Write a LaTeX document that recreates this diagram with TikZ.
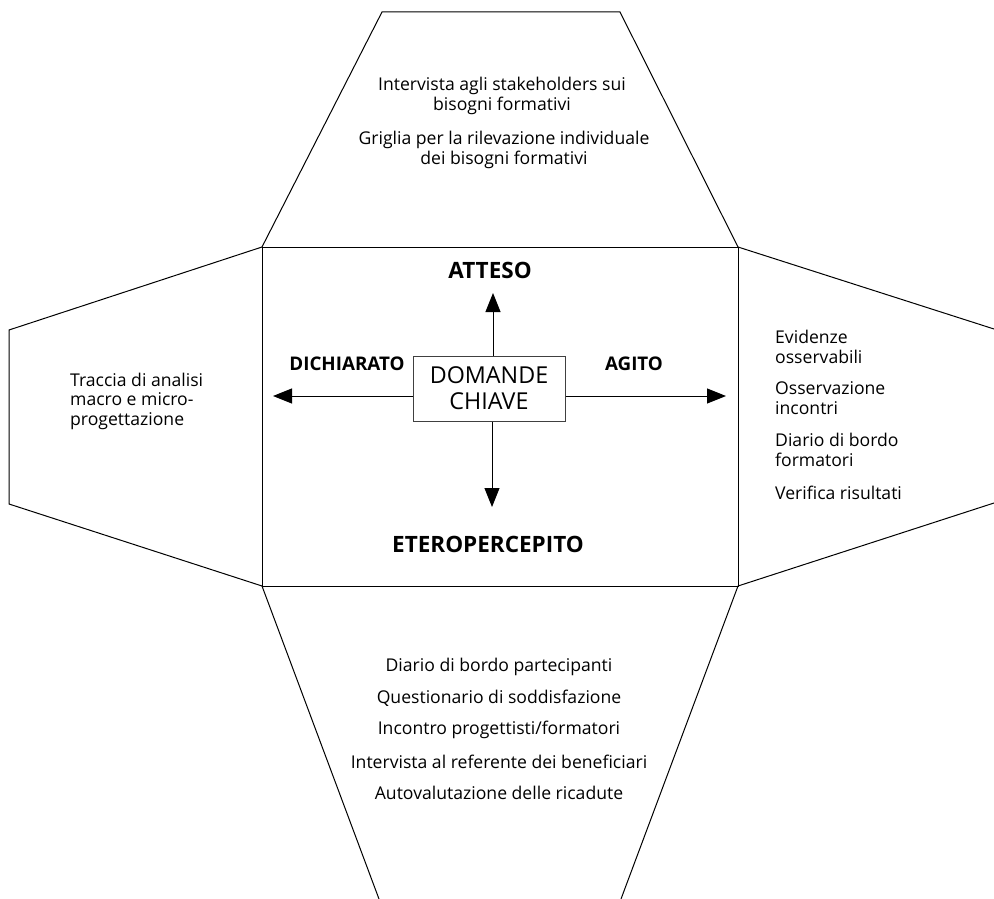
\documentclass[tikz,border=0pt]{standalone}
\usepackage{fontspec}
\setmainfont{Open Sans}
\usetikzlibrary{arrows.meta,calc}
\begin{document}
\begin{tikzpicture}[x=1pt,y=-1pt,
  edge/.style={line width=1pt,line join=miter},
  arr/.style={line width=1pt,-{Triangle[length=19pt,width=15pt]}},
  txt/.style={font=\fontsize{17.6}{19.5}\selectfont,inner sep=0pt},
  lbl/.style={font=\fontsize{22.5}{26}\selectfont\bfseries,inner sep=0pt},
  slbl/.style={font=\fontsize{18.8}{22}\selectfont\bfseries,inner sep=0pt}]
\useasboundingbox (0,0) rectangle (994,899);
% corners
\coordinate (TL) at (262,247);
\coordinate (TR) at (738,247);
\coordinate (BL) at (262,586);
\coordinate (BR) at (738,586);
% top flap
\coordinate (T1) at (382,12);
\coordinate (T2) at (620,12);
% left flap
\coordinate (L1) at (9,330);
\coordinate (L2) at (9,504);
% right flap (cut by page edge)
\coordinate (R1) at (994,329);
\coordinate (R2) at (994,503);
% bottom flap (cut by page edge)
\coordinate (B1) at (379,899);
\coordinate (B2) at (621,899);
\draw[edge] (TL) rectangle (BR);
\draw[edge] (TL) -- (T1) -- (T2) -- (TR);
\draw[edge] (TL) -- (L1) -- (L2) -- (BL);
\draw[edge] (TR) -- (R1);
\draw[edge] (BR) -- (R2);
\draw[edge] (BL) -- (B1);
\draw[edge] (BR) -- (B2);
% centre
\node[draw=black!75,line width=1pt,minimum width=152pt,minimum height=65pt,inner sep=0pt,align=center,
  font=\fontsize{23.3}{26}\selectfont] (dc) at (489,388.5) {DOMANDE\\CHIAVE};
\coordinate (aL) at (273,396);
\coordinate (aR) at (726,396);
\coordinate (aU) at (493,293);
\coordinate (aD) at (492,507);
\draw[arr] (dc.west |- aL) -- (aL);
\draw[arr] (dc.east |- aR) -- (aR);
\draw[arr] (dc.north -| aU) -- (aU);
\draw[arr] (dc.south -| aD) -- (aD);
\node[lbl] (atteso) at (490,270) {ATTESO};
\node[slbl] (dich) at (347,364) {DICHIARATO};
\node[slbl] (agito) at (634,364) {AGITO};
\node[lbl] (etero) at (488,544) {ETEROPERCEPITO};
% texts
\node[txt,align=center] (top1) at (502,96) {Intervista agli stakeholders sui\\bisogni formativi};
\node[txt,align=center] (top2) at (504,150) {Griglia per la rilevazione individuale\\dei bisogni formativi};
\node[txt,align=left,anchor=west] (left) at (70,401) {Traccia di analisi\\macro e micro-\\progettazione};
\node[txt,align=left,anchor=west] (r1) at (775,347) {Evidenze\\osservabili};
\node[txt,align=left,anchor=west] (r2) at (775,398) {Osservazione\\incontri};
\node[txt,align=left,anchor=west] (r3) at (775,450) {Diario di bordo\\formatori};
\node[txt,anchor=west] (r4) at (775,493) {Verifica risultati};
\node[txt] (b1) at (499,667) {Diario di bordo partecipanti};
\node[txt] (b2) at (499,698) {Questionario di soddisfazione};
\node[txt] (b3) at (499,730) {Incontro progettisti/formatori};
\node[txt] (b4) at (499,762) {Intervista al referente dei beneficiari};
\node[txt] (b5) at (499,793) {Autovalutazione delle ricadute};
\end{tikzpicture}
\end{document}
